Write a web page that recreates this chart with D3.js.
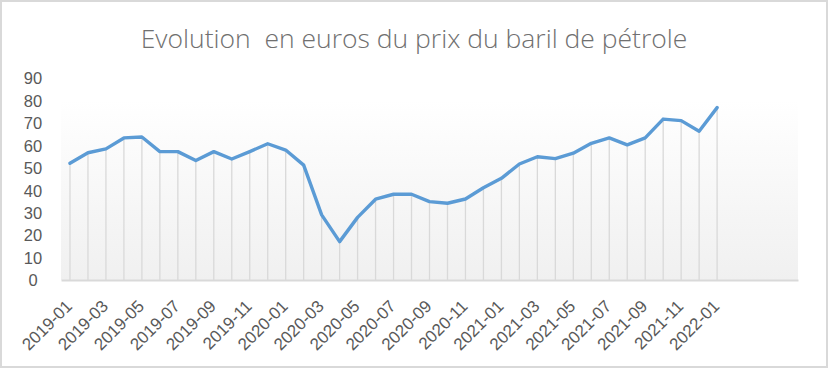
<!DOCTYPE html>
<html>
<head>
<meta charset="UTF-8">
<title>Evolution en euros du prix du baril de pétrole</title>
<script src="https://cdn.jsdelivr.net/npm/d3@7"></script>
<style>
    body { margin: 0; background: #fff; }
    svg { display: block; font-family: "Open Sans", "Liberation Sans", sans-serif; }
    .tick text { fill: #595959; }
</style>
</head>
<body>
<script>
    // months (categories) - the axis keeps 4 empty slots after 2022-01
    var months = [
        "2019-01","2019-02","2019-03","2019-04","2019-05","2019-06","2019-07","2019-08","2019-09","2019-10","2019-11","2019-12",
        "2020-01","2020-02","2020-03","2020-04","2020-05","2020-06","2020-07","2020-08","2020-09","2020-10","2020-11","2020-12",
        "2021-01","2021-02","2021-03","2021-04","2021-05","2021-06","2021-07","2021-08","2021-09","2021-10","2021-11","2021-12",
        "2022-01","2022-02","2022-03","2022-04","2022-05"
    ];
    var prix = [
        52.0, 56.7, 58.4, 63.3, 63.7, 57.2, 57.2, 53.2, 57.2, 53.9, 57.2, 60.7,
        57.9, 51.2, 29.0, 17.1, 27.9, 36.0, 38.2, 38.2, 34.9, 34.2, 36.1, 41.1,
        45.3, 51.7, 54.9, 54.1, 56.5, 60.9, 63.3, 60.2, 63.3, 71.7, 71.0, 66.3,
        76.8
    ];
    var labeledMonths = ["2019-01","2019-03","2019-05","2019-07","2019-09","2019-11","2020-01","2020-03","2020-05","2020-07","2020-09","2020-11",
        "2021-01","2021-03","2021-05","2021-07","2021-09","2021-11","2022-01"];
    var yTicks = [0, 10, 20, 30, 40, 50, 60, 70, 80, 90];

    var W = 829, H = 369;
    var margin = {top: 78, right: 31, bottom: 89, left: 61};

    var svg = d3.select("body").append("svg")
        .attr("width", W)
        .attr("height", H);

    // frame
    svg.append("rect")
        .attr("x", 1).attr("y", 1)
        .attr("width", W - 3).attr("height", H - 3)
        .attr("fill", "#fff")
        .attr("stroke", "#d9d9d9")
        .attr("stroke-width", 2);

    var x = d3.scaleBand().domain(months).range([margin.left, W - margin.right]);
    var y = d3.scaleLinear().domain([0, 90]).range([H - margin.bottom, margin.top]);
    var cx = (d) => x(d) + x.bandwidth() / 2;

    var grad = svg.append("defs").append("linearGradient")
        .attr("id", "plot-gradient")
        .attr("x1", 0).attr("y1", 0).attr("x2", 0).attr("y2", 1);
    grad.append("stop").attr("offset", "0%").attr("stop-color", "#ffffff");
    grad.append("stop").attr("offset", "100%").attr("stop-color", "#f0f0f0");

    svg.append("rect")
        .attr("x", margin.left)
        .attr("y", y(80))
        .attr("width", W - margin.right - margin.left)
        .attr("height", y(0) - y(80))
        .attr("fill", "url(#plot-gradient)");

    // title
    svg.append("text")
        .attr("x", 414)
        .attr("y", 48)
        .attr("text-anchor", "middle")
        .attr("fill", "#707070")
        .style("font-size", "26.5px")
        .style("font-weight", 300)
        .style("white-space", "pre")
        .text("Evolution  en euros du prix du baril de pétrole");

    // y axis labels
    var yAxis = d3.axisLeft(y).tickValues(yTicks).tickSize(0).tickPadding(0);
    var gy = svg.append("g")
        .attr("transform", `translate(${margin.left - 28},0)`)
        .call(yAxis);
    gy.select(".domain").remove();
    gy.selectAll("text").style("font-size", "16.5px").attr("text-anchor", "middle").attr("dy", "0.35em");

    var data = prix.map((v, i) => ({month: months[i], value: v}));

    // drop lines
    svg.append("g").selectAll("line")
        .data(data)
        .enter().append("line")
        .attr("x1", (d) => cx(d.month)).attr("x2", (d) => cx(d.month))
        .attr("y1", (d) => y(d.value)).attr("y2", y(0))
        .attr("stroke", "#d9d9d9")
        .attr("stroke-width", 1.3);

    // x axis
    var xAxis = d3.axisBottom(x)
        .tickValues(labeledMonths)
        .tickSize(0)
        .tickPadding(0);
    var gx = svg.append("g")
        .attr("transform", `translate(0,${y(0)})`)
        .call(xAxis);
    gx.select(".domain")
        .attr("stroke", "#d9d9d9")
        .attr("stroke-width", 2);
    gx.selectAll("text")
        .style("font-size", "17px")
        .attr("text-anchor", "end")
        .attr("y", 0)
        .attr("dy", "0.35em")
        .attr("transform", "translate(-1,23) rotate(-45)");

    // line
    var line = d3.line()
        .x((d) => cx(d.month))
        .y((d) => y(d.value));

    svg.append("path")
        .datum(data)
        .attr("d", line)
        .attr("fill", "none")
        .attr("stroke", "#5b9bd5")
        .attr("stroke-width", 3.4)
        .attr("stroke-linejoin", "round")
        .attr("stroke-linecap", "round");
</script>
</body>
</html>
